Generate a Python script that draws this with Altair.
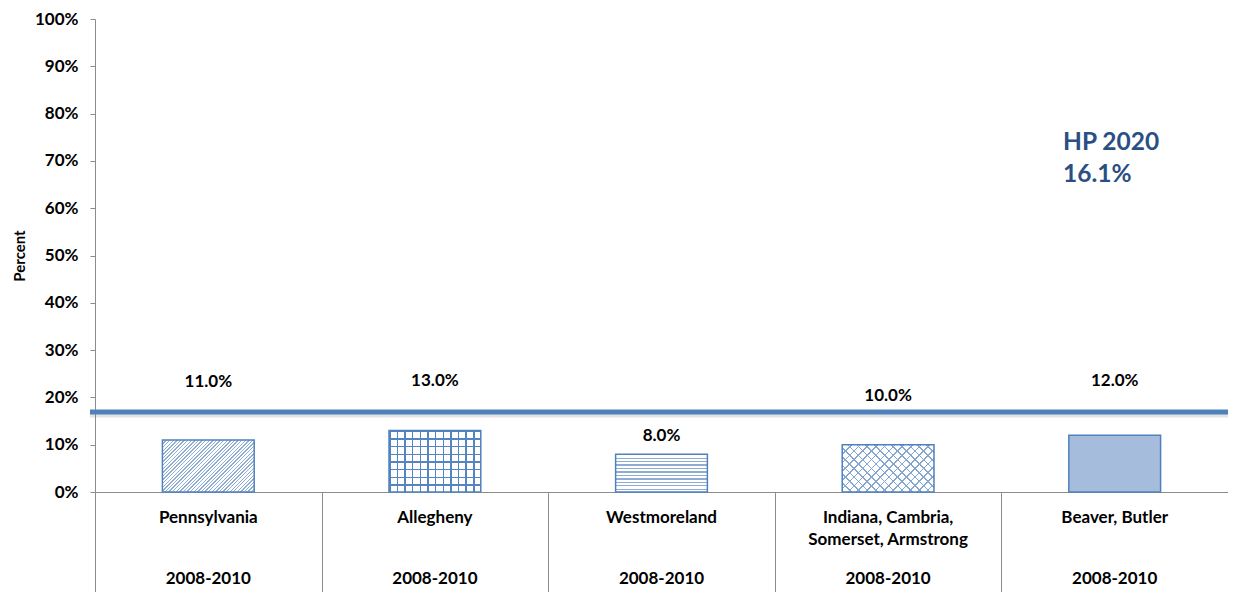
import altair as alt
import pandas as pd

# ---------------- data ----------------
names = ["Pennsylvania", "Allegheny", "Westmoreland",
         "Indiana, Cambria,\nSomerset, Armstrong", "Beaver, Butler"]
periods = ["2008-2010", "2008-2010", "2008-2010", "2008-2010", "2008-2010"]
values = [11.0, 13.0, 8.0, 10.0, 12.0]
hp_label = "HP 2020\n16.1%"
hp_line_value = 16.9          # where the target line is drawn in the picture

# ---------------- layout / style ----------------
label_y = [23.3, 23.4, 11.9, 20.2, 23.4]   # positions of the value labels (as in the original)
W, H = 1133, 473
BAND = W / len(names)
BAR_FRAC = 0.405
BAR_W = BAND * BAR_FRAC
BLUE = "#4F81BD"
AXIS_GRAY = "#8C8C8C"
FONT = "Lato"
FS = 17
CLEAR = "rgba(255,255,255,0)"

df = pd.DataFrame({"name": names, "period": periods, "value": values, "label_y": label_y})
df["label"] = [f"{v:.1f}%" for v in values]


def stripe_stops(n, lw, line, bg):
    stops = []
    p = 1.0 / n
    for i in range(n):
        a = i * p
        b = a + lw * p
        c = min((i + 1) * p, 1.0)
        stops += [{"offset": round(a, 5), "color": line},
                  {"offset": round(b, 5), "color": line},
                  {"offset": round(b, 5), "color": bg},
                  {"offset": round(c, 5), "color": bg}]
    return stops


def diag(w, h, period, lw, line, bg, direction="/"):
    s = (w + h) / (w * w + h * h)
    a, b = w * s, h * s
    n = max(1, round((w + h) / period))
    g = {"gradient": "linear", "stops": stripe_stops(n, lw, line, bg)}
    if direction == "/":
        g.update({"x1": 0, "y1": 0, "x2": a, "y2": b})
    else:
        g.update({"x1": 0, "y1": 1, "x2": a, "y2": 1 - b})
    return g


def horiz(h, period, lw, line, bg):
    n = max(1, round(h / period))
    return {"gradient": "linear", "x1": 0, "y1": 0, "x2": 0, "y2": 1,
            "stops": stripe_stops(n, lw, line, bg)}


def vert(w, period, lw, line, bg):
    n = max(1, round(w / period))
    return {"gradient": "linear", "x1": 0, "y1": 0, "x2": 1, "y2": 0,
            "stops": stripe_stops(n, lw, line, bg)}


hpx = [v / 100 * H for v in values]

patterns = [
    [diag(BAR_W, hpx[0], 3.6, 0.38, "#8FACD5", "#FFFFFF", "/")],
    [vert(BAR_W, 7.6, 0.2, "#5585C0", CLEAR), horiz(hpx[1], 7.6, 0.2, "#5585C0", CLEAR)],
    [horiz(hpx[2], 3.5, 0.38, "#8FACD5", "#FFFFFF")],
    [diag(BAR_W, hpx[3], 8.5, 0.18, "#86A6D2", CLEAR, "/"),
     diag(BAR_W, hpx[3], 8.5, 0.18, "#86A6D2", CLEAR, "\\")],
    ["#A5BCDD"],
]

x_enc = alt.X("name:N", sort=names,
              scale=alt.Scale(paddingInner=0, paddingOuter=0),
              axis=alt.Axis(title=None, labels=False, domainColor=AXIS_GRAY,
                            tickColor=AXIS_GRAY, tickSize=100, tickBand="extent",
                            domainWidth=1, tickWidth=1))
y_scale = alt.Scale(domain=[0, 100], nice=False)
y_axis = alt.Axis(values=list(range(0, 101, 10)), labelExpr="datum.value + '%'",
                  grid=False, domainColor=AXIS_GRAY, tickColor=AXIS_GRAY, tickSize=5,
                  labelFont=FONT, labelFontSize=FS, labelFontWeight="bold",
                  labelColor="black", labelPadding=12,
                  title="Percent", titleFont=FONT, titleFontSize=15,
                  titleFontWeight="bold", titleColor="black", titleAngle=270,
                  titleX=-76, titleY=H / 2, titleAlign="center", titleBaseline="middle")

base = alt.Chart(df)

layers = []
# white base of bars
layers.append(base.mark_bar(width=alt.RelativeBandSize(BAR_FRAC), fill="white").encode(
    x=x_enc, y=alt.Y("value:Q", scale=y_scale, axis=y_axis)))
# patterns
for nm, fills in zip(names, patterns):
    for f in fills:
        layers.append(base.transform_filter(alt.datum.name == nm)
                      .mark_bar(width=alt.RelativeBandSize(BAR_FRAC), fill=f)
                      .encode(x=x_enc, y=alt.Y("value:Q", scale=y_scale, axis=y_axis)))
# outlines
layers.append(base.mark_bar(width=alt.RelativeBandSize(BAR_FRAC), fillOpacity=0,
                            stroke=BLUE, strokeWidth=1.5).encode(
    x=x_enc, y=alt.Y("value:Q", scale=y_scale, axis=y_axis)))

# HP 2020 line with shadow
hp_df = pd.DataFrame({"hp": [hp_line_value], "note": [hp_label]})
layers.append(alt.Chart(hp_df).mark_rule(color="#808080", opacity=0.22, strokeWidth=4, yOffset=3.5).encode(
    y=alt.Y("hp:Q", scale=y_scale, axis=y_axis), x=alt.value(-5), x2=alt.value(W)))
layers.append(alt.Chart(hp_df).mark_rule(color=BLUE, strokeWidth=5).encode(
    y=alt.Y("hp:Q", scale=y_scale, axis=y_axis), x=alt.value(-5), x2=alt.value(W)))
layers.append(alt.Chart(hp_df).mark_text(align="left", baseline="middle", font=FONT,
                                         fontSize=24.5, fontWeight="bold", color="#2A4F85",
                                         lineBreak="\n", lineHeight=32).encode(
    text="note:N", x=alt.value(968), y=alt.value(124)))

# value labels
layers.append(base.mark_text(font=FONT, fontSize=FS, fontWeight="bold", color="black",
                             baseline="middle").encode(
    x=x_enc, y=alt.Y("label_y:Q", scale=y_scale, axis=y_axis), text="label:N"))
# category labels below axis
layers.append(base.mark_text(font=FONT, fontSize=FS, fontWeight="bold", color="black",
                             baseline="top", lineBreak="\n", lineHeight=22).encode(
    x=x_enc, y=alt.value(H + 18), text="name:N"))
layers.append(base.mark_text(font=FONT, fontSize=FS, fontWeight="bold", color="black",
                             baseline="middle").encode(
    x=x_enc, y=alt.value(H + 87), text="period:N"))

chart = alt.layer(*layers).properties(
    width=W, height=H,
    autosize=alt.AutoSizeParams(type="none"),
    padding={"left": 87, "top": 11, "right": 0, "bottom": 100},
    background="white",
).configure_view(stroke=None)

chart.save("out.html", embed_options={"renderer": "svg", "actions": False})
